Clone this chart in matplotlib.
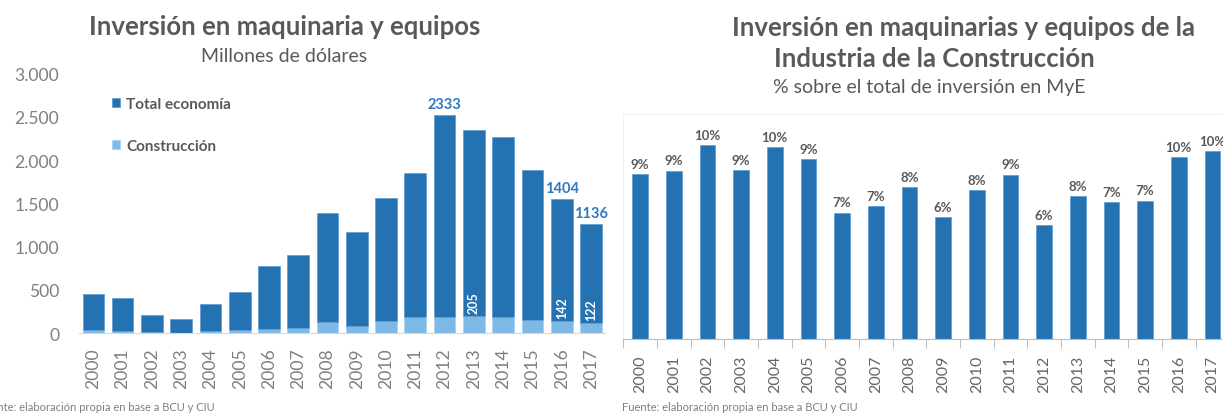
import matplotlib
matplotlib.use("Agg")
import matplotlib.pyplot as plt
import numpy as np

plt.rcParams["font.family"] = ["Lato", "DejaVu Sans"]

years = [str(y) for y in range(2000, 2018)]

# Left chart: millions of USD (stacked, construction at the base)
construccion = [35, 25, 12, 8, 25, 40, 45, 60, 125, 80, 140, 190, 185, 205, 190, 150, 142, 122]
total_economia = [419, 379, 203, 157, 313, 433, 729, 844, 1261, 1086, 1422, 1666,
                  2333, 2146, 2080, 1732, 1404, 1136]
total_labels = {"2012": 2333, "2016": 1404, "2017": 1136}
constr_labels = {"2013": 205, "2016": 142, "2017": 122}

# Right chart: % of total investment in machinery & equipment
pct_construccion = [8.68, 8.86, 10.21, 8.89, 10.12, 9.47, 6.65, 6.98, 8.0, 6.41,
                    7.83, 8.65, 5.98, 7.54, 7.19, 7.28, 9.56, 9.91]

DARK = "#2572B2"
LIGHT = "#7DB9E6"
GREY_TXT = "#595959"
GREY_TICK = "#7f7f7f"

W, H = 1223, 414
fig = plt.figure(figsize=(W / 100, H / 100), dpi=100)


def fx(px):
    return px / W


def fy(py):
    return 1 - py / H


# ---------------- left chart ----------------
ax1 = fig.add_axes([fx(78.7), fy(334.3), fx(605.6 - 78.7), (334.3 - 74.5) / H])
x = np.arange(len(years))
ax1.bar(x, construccion, width=0.74, color=LIGHT, edgecolor="#a9d2f0", linewidth=0.5,
        label="Construcción")
ax1.bar(x, total_economia, bottom=construccion, width=0.74, color=DARK,
        edgecolor="#5b9bd5", linewidth=0.5, label="Total economía")
ax1.set_xlim(-0.5, len(years) - 0.5)
ax1.set_ylim(0, 3000)
ax1.set_yticks(range(0, 3001, 500))
ax1.set_yticklabels([f"{v:,}".replace(",", ".") for v in range(0, 3001, 500)])
ax1.set_xticks(x)
ax1.set_xticklabels(years, rotation=90)
ax1.tick_params(axis="y", length=0, pad=14, labelsize=12.6, labelcolor=GREY_TICK)
ax1.tick_params(axis="x", length=0, pad=10, labelsize=12.6, labelcolor=GREY_TICK)
for s in ["top", "right", "left"]:
    ax1.spines[s].set_visible(False)
ax1.spines["bottom"].set_color("#d9d9d9")

for yr, val in total_labels.items():
    i = years.index(yr)
    top = construccion[i] + total_economia[i]
    ax1.annotate(str(val), (i, top), xytext=(0, 3), textcoords="offset points",
                 ha="center", va="bottom", fontsize=10.5, fontweight="bold", color="#2E78BE")
for yr, val in constr_labels.items():
    i = years.index(yr)
    ax1.annotate(str(val), (i, construccion[i]), xytext=(0, 2), textcoords="offset points",
                 ha="center", va="bottom", rotation=90, fontsize=9, fontweight="bold",
                 color="white")

handles, labels = ax1.get_legend_handles_labels()
leg = ax1.legend(handles[::-1], labels[::-1], loc="upper left",
                 bbox_to_anchor=((98 - 78.7) / (605.6 - 78.7), 1 - (84 - 74.5) / (334.3 - 74.5)),
                 frameon=False, handlelength=0.55, handleheight=0.55, handletextpad=0.4,
                 labelspacing=1.85, prop={"weight": "bold", "size": 11})
for t in leg.get_texts():
    t.set_color(GREY_TXT)

fig.text(fx(284.5), fy(27), "Inversión en maquinaria y equipos", ha="center", va="center",
         fontsize=18.5, fontweight="bold", color=GREY_TXT)
fig.text(fx(284.5), fy(57), "Millones de dólares", ha="center", va="center",
         fontsize=14, color=GREY_TXT)
fig.text(fx(-21), fy(408), "Fuente: elaboración propia en base a BCU y CIU",
         ha="left", va="center", fontsize=8, color=GREY_TICK)

# ---------------- right chart ----------------
ax2 = fig.add_axes([fx(623.3), fy(340), fx(606), (340 - 115) / H])
ax2.bar(x, pct_construccion, width=0.47, color=DARK, edgecolor="#5b9bd5", linewidth=0.5)
ax2.set_xlim(-0.5, len(years) - 0.5)
ax2.set_ylim(0, 11.84)
ax2.set_yticks([])
ax2.set_xticks(x)
ax2.set_xticklabels(years, rotation=90)
ax2.set_xticks(np.arange(-0.5, len(years)), minor=True)
ax2.tick_params(axis="x", which="major", length=0, pad=11, labelsize=11.5, labelcolor="#666666")
ax2.tick_params(axis="x", which="minor", length=6.5, color="#bfbfbf", width=0.8)
for s in ["top", "right", "left"]:
    ax2.spines[s].set_color("#f0f0f0")
ax2.spines["bottom"].set_color("#bfbfbf")

for i, v in enumerate(pct_construccion):
    ax2.annotate(f"{v:.0f}%", (i, v), xytext=(0, 3), textcoords="offset points",
                 ha="center", va="bottom", fontsize=9.5, fontweight="bold", color=GREY_TXT)

fig.text(fx(963), fy(28), "Inversión en maquinarias y equipos de la", ha="center", va="center",
         fontsize=18.5, fontweight="bold", color=GREY_TXT)
fig.text(fx(934), fy(59), "Industria de la Construcción", ha="center", va="center",
         fontsize=18.5, fontweight="bold", color=GREY_TXT)
fig.text(fx(929), fy(88), "% sobre el total de inversión en MyE", ha="center", va="center",
         fontsize=14, color=GREY_TXT)
fig.text(fx(622), fy(408), "Fuente: elaboración propia en base a BCU y CIU",
         ha="left", va="center", fontsize=8, color=GREY_TICK)

fig.savefig("out.png", dpi=100)
